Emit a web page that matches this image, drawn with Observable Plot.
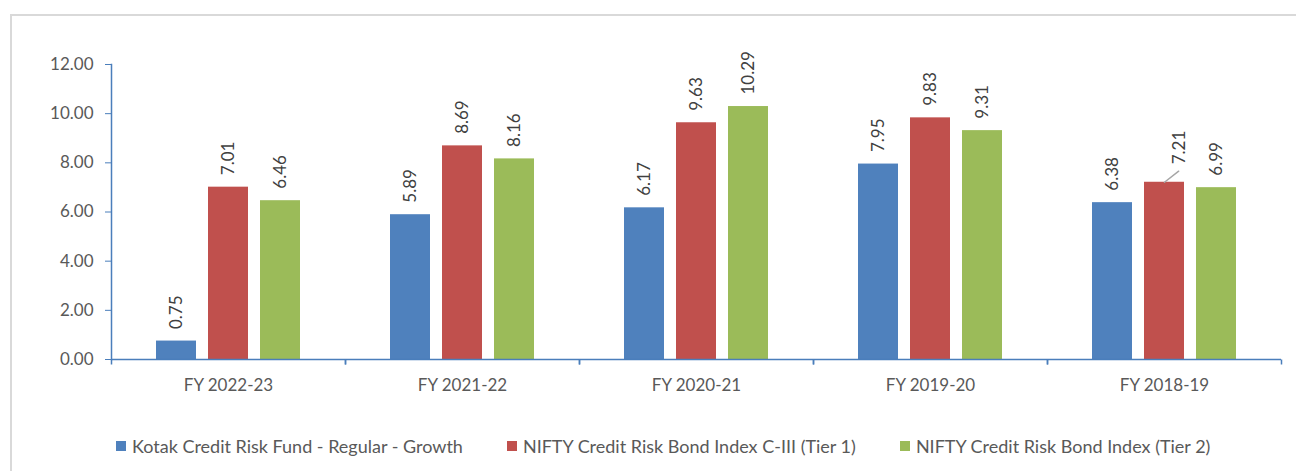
<!DOCTYPE html>
<html><head><meta charset="utf-8">
<script src="https://cdn.jsdelivr.net/npm/d3@7"></script>
<script src="https://cdn.jsdelivr.net/npm/@observablehq/plot@0.6"></script>
<style>
body{margin:0;background:#fff;font-family:Lato, sans-serif;}
#wrap{position:relative;width:1296px;height:471px;overflow:hidden;background:#fff;}
#border{position:absolute;left:10px;top:14px;width:1400px;height:520px;border:2px solid #d9d9d9;box-sizing:border-box;}
#chart{position:absolute;left:0;top:0;}
#legend{position:absolute;left:116px;top:435px;display:flex;gap:44px;font-size:18px;color:#595959;line-height:22px;white-space:nowrap;}
.item{display:flex;align-items:center;}
.sw{width:10px;height:10px;margin-right:6px;}
</style></head>
<body><div id="wrap"><div id="border"></div><div id="chart"></div><div id="legend"></div></div>
<script>
const categories = ["FY 2022-23","FY 2021-22","FY 2020-21","FY 2019-20","FY 2018-19"];
const seriesNames = ["Kotak Credit Risk Fund - Regular - Growth","NIFTY Credit Risk Bond Index C-III (Tier 1)","NIFTY Credit Risk Bond Index (Tier 2)"];
const fundValues = [0.75,5.89,6.17,7.95,6.38];
const tier1Values = [7.01,8.69,9.63,9.83,7.21];
const tier2Values = [6.46,8.16,10.29,9.31,6.99];
const yTicks = [0,2,4,6,8,10,12];
const colors = ["#4F81BD","#C0504D","#9BBB59"];
// the one data label that was dragged aside in the original (with a leader line)
const movedLabel = {category:"FY 2018-19", series:seriesNames[1]};

const seriesValues = [fundValues, tier1Values, tier2Values];
const rows = [];
categories.forEach((c,i)=>seriesNames.forEach((s,j)=>rows.push({category:c, series:s, value:seriesValues[j][i]})));
const isMoved = d => d.category===movedLabel.category && d.series===movedLabel.series;

const axisColor = "#4a7ebb";
const tickSym = {draw(ctx){ctx.moveTo(0,0);ctx.lineTo(0,5);}};
const lineShape = {draw(ctx,l){ctx.moveTo(0,0);ctx.lineTo(0,-l);}};

const chart = Plot.plot({
  width:1296, height:400,
  marginLeft:111, marginRight:15, marginTop:64, marginBottom:41,
  style:{fontFamily:"Lato, sans-serif", fontSize:"17px", color:"#595959", background:"transparent", overflow:"visible"},
  fx:{domain:categories, padding:0, label:null},
  x:{domain:seriesNames, paddingInner:12/52, paddingOuter:0.865, axis:null},
  y:{domain:[0,12], axis:null},
  color:{domain:seriesNames, range:colors},
  marks:[
    Plot.barY(rows,{fx:"category", x:"series", y:"value", fill:"series"}),
    Plot.ruleY([0],{stroke:axisColor, strokeWidth:1.5}),
    Plot.frame({anchor:"left", facetAnchor:"left", stroke:axisColor, strokeWidth:1.5}),
    Plot.dot([0],{frameAnchor:"bottom-left", symbol:tickSym, stroke:axisColor, fill:"none", strokeWidth:1.5}),
    Plot.dot([0],{frameAnchor:"bottom-right", symbol:tickSym, stroke:axisColor, fill:"none", strokeWidth:1.5}),
    Plot.axisY({ticks:yTicks, tickFormat:d=>d.toFixed(2), tickSize:6, tickPadding:12, stroke:axisColor, fill:"#595959", fontSize:17, label:null}),
    Plot.axisFx({anchor:"bottom", tickSize:0, tickPadding:19, fill:"#595959", fontSize:17, label:null}),
    Plot.text(rows.filter(d=>!isMoved(d)),{fx:"category", x:"series", y:"value", text:d=>d.value.toFixed(2), rotate:-90, textAnchor:"start", lineAnchor:"middle", dy:-12, fill:"#404040", fontSize:17}),
    Plot.text(rows.filter(isMoved),{fx:"category", x:"series", y:"value", text:d=>d.value.toFixed(2), rotate:-90, textAnchor:"start", lineAnchor:"middle", dx:15, dy:-18, fill:"#404040", fontSize:17}),
    Plot.vector(rows.filter(isMoved),{fx:"category", x:"series", y:"value", length:18, rotate:52, anchor:"start", shape:lineShape, stroke:"#a6a6a6", strokeWidth:1.5})
  ]
});
document.getElementById("chart").appendChild(chart);

const legend = document.getElementById("legend");
seriesNames.forEach((s,i)=>{
  const it = document.createElement("div"); it.className="item";
  const sw = document.createElement("div"); sw.className="sw"; sw.style.background=colors[i];
  const t = document.createElement("span"); t.textContent=s;
  it.appendChild(sw); it.appendChild(t); legend.appendChild(it);
});
</script>
</body></html>
